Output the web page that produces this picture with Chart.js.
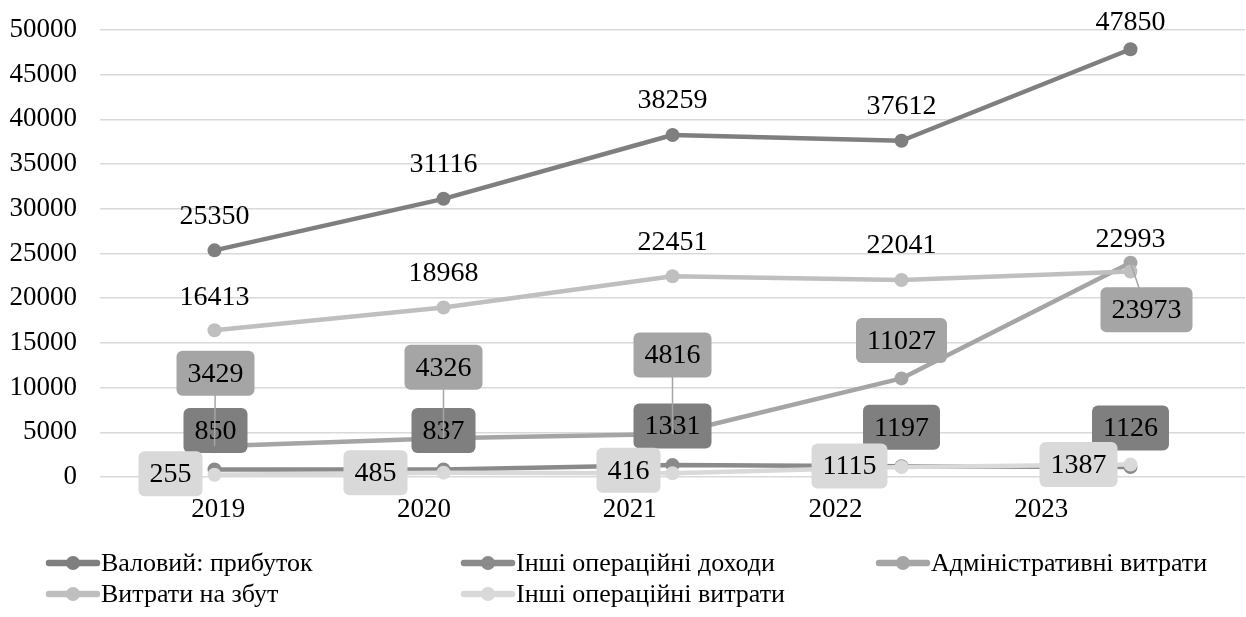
<!DOCTYPE html>
<html>
<head>
<meta charset="utf-8">
<script src="https://cdn.jsdelivr.net/npm/chart.js@4/dist/chart.umd.min.js"></script>
<style>
  body { margin: 0; background: #fff; }
  #wrap { width: 1246px; height: 617px; }
</style>
</head>
<body>
<div id="wrap"><canvas id="myChart" width="1246" height="617"></canvas></div>
<script>
// data
const years = ['2019', '2020', '2021', '2022', '2023']
const seriesNames = ['Валовий: прибуток', 'Інші операційні доходи', 'Адміністративні витрати', 'Витрати на збут', 'Інші операційні витрати']
const grossProfit = [25350, 31116, 38259, 37612, 47850]
const otherIncome = [850, 837, 1331, 1197, 1126]
const adminCosts = [3429, 4326, 4816, 11027, 23973]
const sellingCosts = [16413, 18968, 22451, 22041, 22993]
const otherCosts = [255, 485, 416, 1115, 1387]
const yTicks = [0, 5000, 10000, 15000, 20000, 25000, 30000, 35000, 40000, 45000, 50000]

const lineColors = ['#7f7f7f', '#8a8a8a', '#a5a5a5', '#bfbfbf', '#d9d9d9']
const allSeries = [grossProfit, otherIncome, adminCosts, sellingCosts, otherCosts]

// where each value label sits relative to its point (Excel callouts were placed by hand)
const labelLayout = [
    { box: null, dx: [0, 0, 0, 0, 0], dy: [-35, -35, -35, -35, -28] },
    { box: '#7f7f7f', dx: [1, 0, 0, 0, 0], dy: [-39, -39, -39, -39, -39] },
    { box: '#a5a5a5', leader: true, dx: [1, 0, 0, 0, 16], dy: [-73, -71, -79, -38, 47] },
    { box: null, dx: [0, 0, 0, 0, 0], dy: [-34, -35, -35, -35, -33] },
    { box: '#d9d9d9', dx: [-44, -68, -44, -52, -52], dy: [-1, 0, -3, -1, 0] }
]

const FONT = "'Liberation Serif', 'Times New Roman', serif"
Chart.defaults.font.family = FONT
Chart.defaults.color = '#000'

const valueLabels = {
    id: 'valueLabels',
    afterDatasetsDraw(chart) {
        const ctx = chart.ctx
        ctx.save()
        ctx.font = '28px ' + FONT
        ctx.textAlign = 'center'
        ctx.textBaseline = 'middle'
        chart.data.datasets.forEach((ds, di) => {
            const meta = chart.getDatasetMeta(di)
            const lay = labelLayout[di]
            meta.data.forEach((pt, i) => {
                const text = String(ds.data[i])
                const cx = pt.x + lay.dx[i]
                const cy = pt.y + lay.dy[i]
                if (lay.box) {
                    if (lay.leader && Math.hypot(cx - pt.x, cy - pt.y) > 45) {
                        ctx.strokeStyle = lay.box
                        ctx.lineWidth = 1.5
                        ctx.beginPath()
                        ctx.moveTo(pt.x, pt.y)
                        ctx.lineTo(cx, cy)
                        ctx.stroke()
                    }
                    const w = ctx.measureText(text).width + 22
                    const h = 45
                    ctx.fillStyle = lay.box
                    ctx.beginPath()
                    ctx.roundRect(cx - w / 2, cy - h / 2, w, h, 6)
                    ctx.fill()
                }
                ctx.fillStyle = '#000'
                ctx.fillText(text, cx, cy + 1)
            })
        })
        ctx.restore()
    }
}

const gridLegend = {
    id: 'gridLegend',
    afterDraw(chart) {
        const ctx = chart.ctx
        ctx.save()
        ctx.font = '26px ' + FONT
        ctx.textBaseline = 'middle'
        ctx.textAlign = 'left'
        chart.data.datasets.forEach((ds, i) => {
            const x = 46 + (i % 3) * 415
            const y = 563 + Math.floor(i / 3) * 31
            ctx.strokeStyle = ds.borderColor
            ctx.lineWidth = 6.5
            ctx.lineCap = 'round'
            ctx.beginPath()
            ctx.moveTo(x + 3, y)
            ctx.lineTo(x + 51, y)
            ctx.stroke()
            ctx.fillStyle = ds.borderColor
            ctx.beginPath()
            ctx.arc(x + 27, y, 7, 0, Math.PI * 2)
            ctx.fill()
            ctx.fillStyle = '#000'
            ctx.fillText(ds.label, x + 55, y + 1)
        })
        ctx.restore()
    }
}

const ctx = document.getElementById('myChart')
const myChart = new Chart(ctx, {
    type: 'line',
    data: {
        labels: years,
        datasets: allSeries.map((values, i) => ({
            label: seriesNames[i],
            data: values,
            borderColor: lineColors[i],
            backgroundColor: lineColors[i],
            borderWidth: 4.5,
            borderJoinStyle: 'round',
            borderCapStyle: 'round',
            pointRadius: 7,
            pointBorderWidth: 0,
            pointHoverRadius: 7,
            tension: 0,
            clip: false,
            order: 5 - i,
            xAxisID: 'x'
        }))
    },
    options: {
        responsive: false,
        animation: false,
        events: [],
        layout: { autoPadding: false, padding: { top: 30, right: 1, left: 0, bottom: 0 } },
        plugins: {
            legend: { display: false },
            tooltip: { enabled: false }
        },
        scales: {
            x: {
                type: 'category',
                display: false,
                offset: true
            },
            yearAxis: {
                type: 'linear',
                position: 'bottom',
                min: -0.575,
                max: 4.99,
                grid: { display: false, drawTicks: false },
                border: { display: false },
                afterBuildTicks: (scale) => { scale.ticks = years.map((y, i) => ({ value: i })) },
                afterFit: (scale) => {
                    scale.height = 140
                    scale.paddingLeft = 0
                    scale.paddingRight = 0
                },
                ticks: {
                    padding: 17,
                    autoSkip: false,
                    maxRotation: 0,
                    font: { size: 27 },
                    callback: (v) => years[v]
                }
            },
            y: {
                min: 0,
                max: 50000,
                afterBuildTicks: (scale) => { scale.ticks = yTicks.map(v => ({ value: v })) },
                afterFit: (scale) => {
                    scale.width = 100
                    scale.paddingTop = 0
                    scale.paddingBottom = 0
                },
                grid: { color: '#d9d9d9', lineWidth: 1.5, drawTicks: false },
                border: { display: false },
                ticks: {
                    padding: 23,
                    font: { size: 27 },
                    callback: (v) => String(v)
                }
            }
        }
    },
    plugins: [valueLabels, gridLegend]
})
</script>
</body>
</html>
